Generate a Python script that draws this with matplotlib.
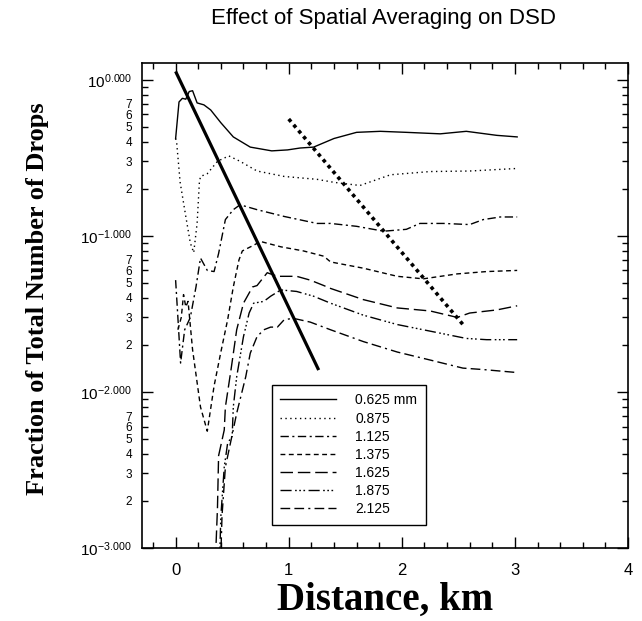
import numpy as np
import matplotlib
matplotlib.use("Agg")
import matplotlib.pyplot as plt
from matplotlib.ticker import FixedLocator, FuncFormatter, MultipleLocator

plt.rcParams['font.family'] = ['Liberation Sans', 'DejaVu Sans']
plt.rcParams['mathtext.default'] = 'regular'

# drop diameter classes
labels = ["0.625 mm", "0.875", "1.125", "1.375", "1.625", "1.875", "2.125"]

# distance (km) / fraction of total number of drops
x_0625 = [0.0, 0.03, 0.06, 0.09, 0.12, 0.15, 0.19, 0.25, 0.31, 0.40, 0.51, 0.66, 0.85,
          0.99, 1.10, 1.22, 1.40, 1.60, 1.81, 2.04, 2.34, 2.57, 2.84, 3.02]
y_0625 = [0.42, 0.72, 0.76, 0.75, 0.84, 0.85, 0.71, 0.69, 0.64, 0.53, 0.43, 0.37, 0.35,
          0.355, 0.365, 0.37, 0.42, 0.46, 0.467, 0.46, 0.45, 0.467, 0.44, 0.43]

x_0875 = [0.0, 0.01, 0.04, 0.09, 0.13, 0.16, 0.19, 0.21, 0.22, 0.28, 0.37, 0.47, 0.57,
          0.72, 0.96, 1.25, 1.40, 1.63, 1.90, 2.25, 2.60, 3.02]
y_0875 = [0.42, 0.39, 0.22, 0.133, 0.09, 0.078, 0.12, 0.22, 0.24, 0.25, 0.30, 0.325, 0.30,
          0.26, 0.24, 0.23, 0.22, 0.21, 0.246, 0.258, 0.26, 0.27]

x_1125 = [0.0, 0.02, 0.044, 0.08, 0.13, 0.18, 0.22, 0.28, 0.34, 0.38, 0.44, 0.51, 0.57,
          0.72, 0.96, 1.25, 1.37, 1.60, 1.84, 2.04, 2.16, 2.37, 2.60, 2.72, 2.87, 3.02]
y_1125 = [0.052, 0.03, 0.0153, 0.025, 0.030, 0.047, 0.072, 0.06, 0.059, 0.077, 0.127, 0.147, 0.158,
          0.147, 0.133, 0.12, 0.12, 0.115, 0.107, 0.11, 0.12, 0.12, 0.118, 0.127, 0.132, 0.132]

x_1375 = [0.02, 0.05, 0.07, 0.09, 0.11, 0.15, 0.22, 0.28, 0.34, 0.40, 0.46, 0.51, 0.56,
          0.59, 0.69, 0.75, 0.93, 1.13, 1.31, 1.37, 1.66, 1.96, 2.19, 2.49, 2.75, 3.02]
y_1375 = [0.025, 0.03, 0.042, 0.035, 0.038, 0.0186, 0.008, 0.0056, 0.0109, 0.018, 0.029, 0.047, 0.07,
          0.08, 0.087, 0.092, 0.085, 0.08, 0.074, 0.068, 0.062, 0.055, 0.053, 0.057, 0.059, 0.06]

x_1625 = [0.34, 0.37, 0.38, 0.43, 0.44, 0.49, 0.54, 0.60, 0.68, 0.72, 0.81, 0.90, 1.07,
          1.19, 1.31, 1.37, 1.66, 1.96, 2.25, 2.49, 2.60, 2.84, 3.02]
y_1625 = [0.0005, 0.0018, 0.0039, 0.0057, 0.008, 0.0139, 0.025, 0.037, 0.047, 0.048, 0.058, 0.055, 0.055,
          0.052, 0.048, 0.046, 0.039, 0.0345, 0.033, 0.030, 0.032, 0.0335, 0.0356]

x_1875 = [0.38, 0.40, 0.43, 0.46, 0.50, 0.51, 0.54, 0.60, 0.65, 0.69, 0.78, 0.84, 0.93,
          1.07, 1.22, 1.37, 1.66, 1.96, 2.25, 2.57, 2.75, 3.02]
y_1875 = [0.0005, 0.0016, 0.0033, 0.0047, 0.0052, 0.008, 0.0125, 0.0226, 0.032, 0.037, 0.038, 0.041, 0.045,
          0.044, 0.041, 0.037, 0.031, 0.027, 0.0245, 0.022, 0.0216, 0.0216]

x_2125 = [0.39, 0.41, 0.44, 0.49, 0.54, 0.62, 0.66, 0.72, 0.78, 0.84, 0.90, 0.96, 1.04,
          1.19, 1.37, 1.66, 1.96, 2.25, 2.54, 2.72, 3.02]
y_2125 = [0.0005, 0.0016, 0.0033, 0.0049, 0.0073, 0.0125, 0.0177, 0.0226, 0.025, 0.026, 0.026, 0.029, 0.0296,
          0.028, 0.025, 0.021, 0.018, 0.016, 0.0142, 0.0139, 0.0133]

# the two straight guide lines
guide_solid_x = [0.0, 1.265]
guide_solid_y = [1.13, 0.0138]
guide_dot_x = [1.0, 2.56]
guide_dot_y = [0.56, 0.026]

series = [(x_0625, y_0625), (x_0875, y_0875), (x_1125, y_1125), (x_1375, y_1375),
          (x_1625, y_1625), (x_1875, y_1875), (x_2125, y_2125)]
dashes = [
    (None, None),
    (1, 2.5),
    (6, 2.5, 1.5, 2.5),
    (3.5, 2.5),
    (9, 3.5),
    (8, 2.5, 1.2, 1.8, 1.2, 1.8, 1.2, 2.5),
    (7, 3, 7, 3, 1.5, 3),
]

fig = plt.figure(figsize=(6.42, 6.21), dpi=100)
ax = fig.add_axes([0.2207, 0.1176, 0.7575, 0.781])

for (xs, ys), lab, ds in zip(series, labels, dashes):
    line, = ax.plot(xs, ys, color="black", lw=1.0, label=lab)
    if ds[0] is not None:
        line.set_dashes(ds)

ax.plot(guide_solid_x, guide_solid_y, color="black", lw=2.3, solid_capstyle="butt")
ax.plot(guide_dot_x, guide_dot_y, color="black", lw=2.6, linestyle=(0, (1, 1.1)))

ax.set_yscale("log")
ax.set_xlim(-0.3, 4.0)
ax.set_ylim(1e-3, 1.28)

ax.xaxis.set_major_locator(MultipleLocator(1))
ax.xaxis.set_minor_locator(MultipleLocator(0.2))

ax.yaxis.set_major_locator(FixedLocator([1e-3, 1e-2, 1e-1, 1.0]))
ax.yaxis.set_major_formatter(FuncFormatter(lambda v, p: r"$10^{%.3f}$" % np.log10(v)))
minor_locs = [m * 10.0 ** e for e in (-3, -2, -1) for m in range(2, 10)]
ax.yaxis.set_minor_locator(FixedLocator(minor_locs))


def minor_label(v, pos):
    m = int(round(v / 10.0 ** np.floor(np.log10(v) + 1e-9)))
    return str(m) if m <= 7 else ""


ax.yaxis.set_minor_formatter(FuncFormatter(minor_label))

ax.tick_params(which="both", direction="in", top=True, right=True, width=1.0)
ax.tick_params(which="major", length=8)
ax.tick_params(which="minor", length=4)
ax.tick_params(axis="x", which="major", labelsize=12, pad=11)
ax.tick_params(axis="y", which="major", labelsize=11, pad=7)
ax.tick_params(axis="y", which="minor", labelsize=8.5, pad=7)
for s in ax.spines.values():
    s.set_linewidth(1.2)

ax.set_xlabel("Distance, km", family="Liberation Serif", fontweight="bold", fontsize=28)
ax.xaxis.set_label_coords(0.5, -0.07)
ax.xaxis.label.set_va("top")
ax.set_ylabel("Fraction of Total Number of Drops", family="Liberation Serif",
              fontweight="bold", fontsize=19)
ax.yaxis.set_label_coords(-0.19, 0.515)

fig.text(0.598, 0.971, "Effect of Spatial Averaging on DSD", fontsize=16,
         ha="center", va="center")

leg = ax.legend(loc="upper left", bbox_to_anchor=(0.268, 0.336), frameon=True,
                fancybox=False, edgecolor="black", framealpha=1, fontsize=10,
                handlelength=4.0, handletextpad=1.4, labelspacing=0.3,
                borderpad=0.6, borderaxespad=0)
leg.get_frame().set_linewidth(1.0)

fig.savefig("out.png", dpi=100, facecolor="white")
